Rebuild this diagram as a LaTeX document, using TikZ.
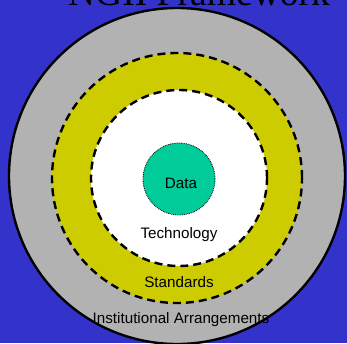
\documentclass[tikz,border=0pt]{standalone}
\usepackage{fontspec}
\setmainfont{Liberation Sans}
\newfontfamily\titlefont{Liberation Serif}
\definecolor{bgblue}{HTML}{3333CC}
\definecolor{ringgray}{HTML}{B2B2B2}
\definecolor{ringyellow}{HTML}{CCCC00}
\definecolor{datateal}{HTML}{00CC99}
\tikzset{
    ring/.style={circle, inner sep=0pt, line width=2.4pt},
    dashring/.style={ring, draw, dash pattern=on 8pt off 5pt},
    label/.style={font=\fontsize{15.2}{17}\selectfont, text=black, anchor=base}
}
\begin{document}
\begin{tikzpicture}[x=1pt, y=-1pt]
    % Fondo
    \fill[bgblue] (0,0) rectangle (347,343);
    \useasboundingbox (0,0) rectangle (347,343);
    \node[font=\titlefont\fontsize{37.6}{40}\selectfont, anchor=base] (title) at (199,5) {NGII Framework};

    % Anillos
    \node[ring, draw, fill=ringgray, minimum size=336pt] (institutions) at (177,176) {};
    \node[dashring, fill=ringyellow, minimum size=250pt] (standards) at (177,178) {};
    \node[dashring, fill=white, minimum size=176pt] (technology) at (179,178) {};
    \node[circle, inner sep=0pt, draw, densely dotted, line width=0.8pt, fill=datateal, minimum size=72pt] (data) at (179,179) {};

    % Textos
    \node[label] (datalabel) at (181,188) {Data};
    \node[label] (techlabel) at (179,238) {Technology};
    \node[label] (stdlabel) at (179,287) {Standards};
    \node[label] (instlabel) at (181,323) {Institutional Arrangements};
\end{tikzpicture}
\end{document}
